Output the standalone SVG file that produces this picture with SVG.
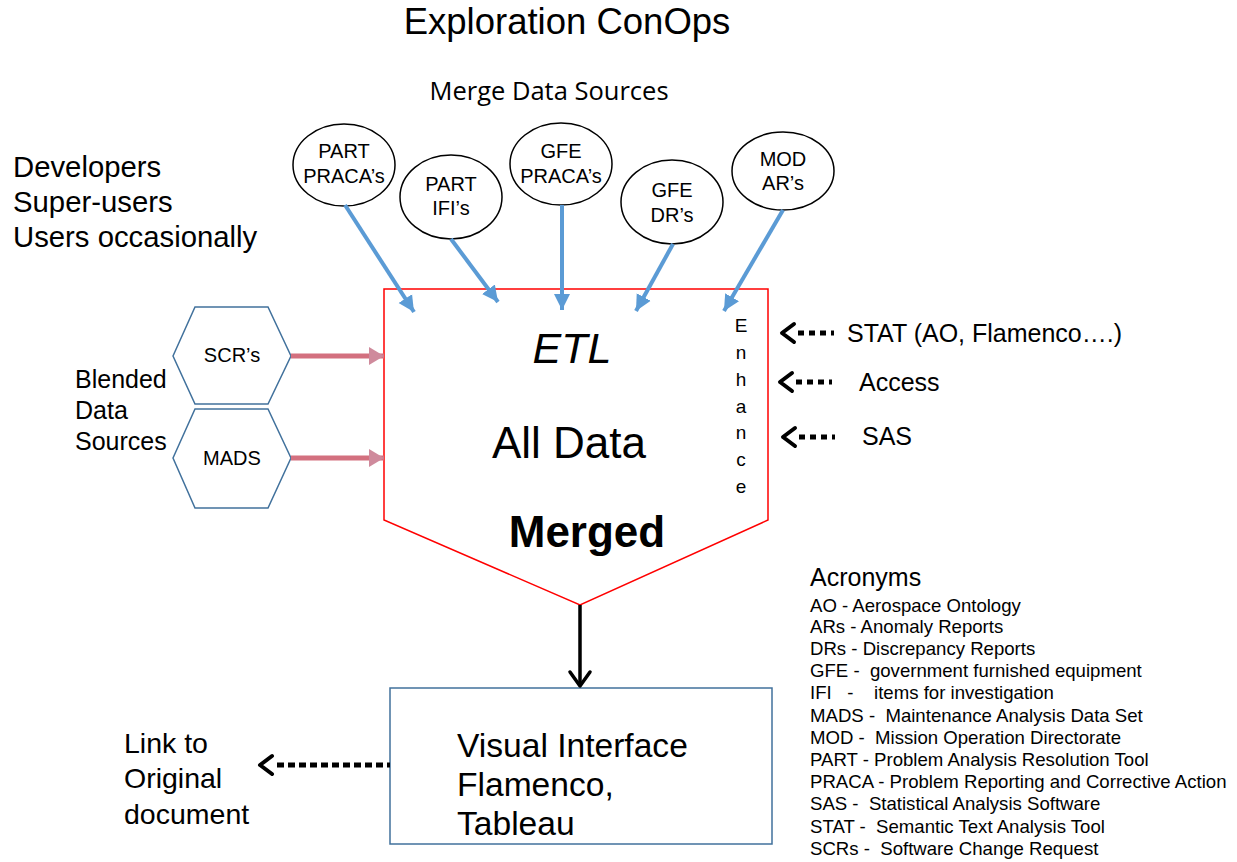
<svg xmlns="http://www.w3.org/2000/svg" width="1237" height="862" viewBox="0 0 1237 862">
<style>
text{font-family:"Liberation Sans",Arial,sans-serif;fill:#000}
.ell{fill:#fff;stroke:#000;stroke-width:1.5}
.hex{fill:#fff;stroke:#41719c;stroke-width:1.5}
.et{font-size:20px;text-anchor:middle}
.blue{stroke:#5b9bd5;stroke-width:4;fill:none}
.pink{stroke:#d3707f;stroke-width:5;fill:none}
.chev{fill:none;stroke:#000;stroke-width:4;stroke-linecap:round;stroke-linejoin:round}
.dots{stroke:#000;stroke-width:5;stroke-dasharray:6 5;fill:none}
.side{font-size:25px}
.acr{font-size:18.6px;white-space:pre}
.en{font-size:19px;text-anchor:middle}
</style>
<defs>
<marker id="bh" markerUnits="userSpaceOnUse" markerWidth="18" markerHeight="18" refX="16" refY="8" orient="auto" viewBox="0 0 18 16">
<path d="M0,0 L16,8 L0,16 Z" fill="#5b9bd5"/>
</marker>
<marker id="ph" markerUnits="userSpaceOnUse" markerWidth="16" markerHeight="18" refX="15" refY="9" orient="auto" viewBox="0 0 16 18">
<path d="M0,0 L15,9 L0,18 Z" fill="#cf8a9c"/>
</marker>
</defs>

<text x="567" y="34" font-size="36.5" text-anchor="middle">Exploration ConOps</text>
<text x="549" y="100" font-size="25.5" text-anchor="middle" style="font-family:'Open Sans',sans-serif">Merge Data Sources</text>

<g id="users">
<text x="13" y="177" font-size="29.3">Developers</text>
<text x="13" y="212" font-size="29.3">Super-users</text>
<text x="13" y="247" font-size="29.3">Users occasionally</text>
</g>

<g id="blended">
<text x="75" y="388" font-size="25">Blended</text>
<text x="75" y="419" font-size="25">Data</text>
<text x="75" y="450" font-size="25">Sources</text>
</g>

<g id="etl">
<path d="M384,289 L768,289 L768,520 L580,605 L384,520 Z" fill="#fff" stroke="#ff0000" stroke-width="1.5"/>
<text x="572" y="363" font-size="43" font-style="italic" text-anchor="middle">ETL</text>
<text x="569" y="458" font-size="44" text-anchor="middle">All Data</text>
<text x="587" y="547" font-size="44" font-weight="bold" text-anchor="middle">Merged</text>
<text class="en" x="741" y="332">E</text>
<text class="en" x="741" y="359">n</text>
<text class="en" x="741" y="386">h</text>
<text class="en" x="741" y="413">a</text>
<text class="en" x="741" y="439">n</text>
<text class="en" x="741" y="466">c</text>
<text class="en" x="741" y="493">e</text>
</g>

<g id="e1"><ellipse class="ell" cx="344" cy="165" rx="51" ry="41"/><text class="et" x="344" y="158">PART</text><text class="et" x="344" y="183">PRACA’s</text></g>
<g id="e2"><ellipse class="ell" cx="451" cy="197" rx="51" ry="42"/><text class="et" x="451" y="191">PART</text><text class="et" x="451" y="215">IFI’s</text></g>
<g id="e3"><ellipse class="ell" cx="561" cy="164" rx="51" ry="41"/><text class="et" x="561" y="158">GFE</text><text class="et" x="561" y="183">PRACA’s</text></g>
<g id="e4"><ellipse class="ell" cx="672" cy="202" rx="51" ry="42"/><text class="et" x="672" y="197">GFE</text><text class="et" x="672" y="222">DR’s</text></g>
<g id="e5"><ellipse class="ell" cx="783" cy="171" rx="51" ry="39"/><text class="et" x="783" y="166">MOD</text><text class="et" x="783" y="190">AR’s</text></g>

<g id="scr"><path class="hex" d="M173,356 L195,307 L268,307 L291,356 L268,404 L195,404 Z"/><text class="et" x="232" y="362">SCR’s</text></g>
<g id="mads"><path class="hex" d="M173,458 L195,409 L268,409 L291,458 L268,508 L195,508 Z"/><text class="et" x="232" y="465">MADS</text></g>

<g id="visual">
<rect x="390" y="688" width="382" height="156" fill="#fff" stroke="#41719c" stroke-width="1.5"/>
<text x="457" y="757" font-size="33.6">Visual Interface</text>
<text x="457" y="796" font-size="33.6">Flamenco,</text>
<text x="457" y="835" font-size="33.6">Tableau</text>
</g>

<g id="link">
<text x="124" y="753" font-size="28.5">Link to</text>
<text x="124" y="788" font-size="28.5">Original</text>
<text x="124" y="824" font-size="28.5">document</text>
</g>

<g id="tools">
<text class="side" x="847" y="342">STAT (AO, Flamenco….)</text>
<text class="side" x="859" y="391">Access</text>
<text class="side" x="862" y="445">SAS</text>
</g>

<g id="acronyms">
<text x="810" y="586" font-size="25">Acronyms</text>
<text class="acr" x="810" y="612">AO - Aerospace Ontology</text>
<text class="acr" x="810" y="633">ARs - Anomaly Reports</text>
<text class="acr" x="810" y="655">DRs - Discrepancy Reports</text>
<text class="acr" x="810" y="677">GFE -  government furnished equipment</text>
<text class="acr" x="810" y="699">IFI   -    items for investigation</text>
<text class="acr" x="810" y="722">MADS -  Maintenance Analysis Data Set</text>
<text class="acr" x="810" y="744">MOD -  Mission Operation Directorate</text>
<text class="acr" x="810" y="766">PART - Problem Analysis Resolution Tool</text>
<text class="acr" x="810" y="788">PRACA - Problem Reporting and Corrective Action</text>
<text class="acr" x="810" y="810">SAS -  Statistical Analysis Software</text>
<text class="acr" x="810" y="833">STAT -  Semantic Text Analysis Tool</text>
<text class="acr" x="810" y="855">SCRs -  Software Change Request</text>
</g>

<g id="connectors">
<path class="blue" d="M345,205 L414,312" marker-end="url(#bh)"/>
<path class="blue" d="M451,239 L498,302" marker-end="url(#bh)"/>
<path class="blue" d="M562,205 L562,310" marker-end="url(#bh)"/>
<path class="blue" d="M673,244 L636,311" marker-end="url(#bh)"/>
<path class="blue" d="M783,210 L724,311" marker-end="url(#bh)"/>
<path class="pink" d="M291,356 L384,356" marker-end="url(#ph)"/>
<path class="pink" d="M291,458 L384,458" marker-end="url(#ph)"/>
<path d="M580,605 L580,686" stroke="#000" stroke-width="3.5" fill="none"/>
<path class="chev" d="M570,672 L580,686 L590,672" style="stroke-width:3.5"/>
<path class="chev" d="M794,324 L782,333 L794,342"/>
<path class="dots" d="M798,333 L834,333"/>
<path class="chev" d="M792,373 L780,382 L792,391"/>
<path class="dots" d="M796,382 L832,382"/>
<path class="chev" d="M795,428 L783,437 L795,446"/>
<path class="dots" d="M799,437 L835,437"/>
<path class="chev" d="M272,756 L260,765 L272,774"/>
<path class="dots" d="M277,765 L390,765" style="stroke-dasharray:7 4"/>
</g>
</svg>
